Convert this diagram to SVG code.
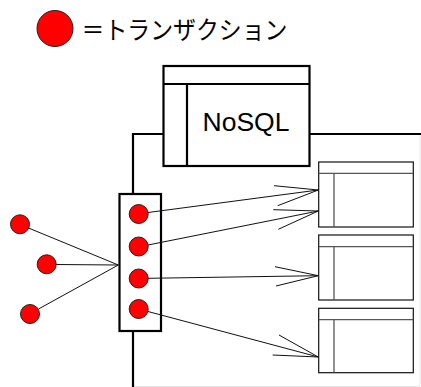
<svg xmlns="http://www.w3.org/2000/svg" width="421" height="387" viewBox="0 0 421 387">
  <style>
    .txn { fill: #ff0000; stroke: #222; stroke-width: 1; }
    .thick { fill: #fff; stroke: #000; stroke-width: 2.2; }
    .thickline { fill: none; stroke: #000; stroke-width: 2.2; }
    .tbl { fill: #fff; stroke: #111; stroke-width: 1.2; }
    .tblinner { fill: none; stroke: #555; stroke-width: 1.3; }
    .conn { fill: none; stroke: #111; stroke-width: 1; }
    .label { font-family: "Liberation Sans", Arial, sans-serif; fill: #000; }
    .jp { font-family: "Noto Sans CJK JP", sans-serif; fill: #000; }
  </style>

  <!-- legend -->
  <g id="legend">
    <circle class="txn" cx="55" cy="28.5" r="18"/>
    <text class="jp" x="81.5" y="39" font-size="25" textLength="206" lengthAdjust="spacingAndGlyphs">＝トランザクション</text>
  </g>

  <!-- outer frame -->
  <g id="frame">
    <polyline points="420,135 420,386.5 133,386.5" fill="none" stroke="#e6e6e6" stroke-width="1"/>
    <polyline class="thickline" points="133,387 133,134 164,134"/>
    <line class="thickline" x1="309" y1="134" x2="421" y2="134"/>
  </g>

  <!-- NoSQL store -->
  <g id="nosql">
    <rect class="thick" x="163.5" y="66" width="146" height="100"/>
    <line class="thickline" x1="163.5" y1="84" x2="309.5" y2="84"/>
    <line class="thickline" x1="187" y1="84" x2="187" y2="166"/>
    <text class="label" x="202.5" y="131" font-size="26.5">NoSQL</text>
  </g>

  <!-- transaction queue -->
  <g id="queue">
    <rect class="thick" x="119.5" y="194" width="41.5" height="137"/>
    <circle class="txn" cx="138.7" cy="214" r="9.5"/>
    <circle class="txn" cx="138.7" cy="246.5" r="9.5"/>
    <circle class="txn" cx="138.7" cy="278.5" r="9.5"/>
    <circle class="txn" cx="138.7" cy="309" r="9.5"/>
  </g>

  <!-- incoming transactions -->
  <g id="client1"><circle class="txn" cx="20" cy="224.3" r="9.5"/></g>
  <g id="client2"><circle class="txn" cx="46.7" cy="264.3" r="9.5"/></g>
  <g id="client3"><circle class="txn" cx="30" cy="314" r="9.5"/></g>

  <!-- tables -->
  <g id="table1">
    <rect class="tbl" x="318.7" y="162" width="94.6" height="65"/>
    <line class="tblinner" x1="318.7" y1="173.3" x2="413.3" y2="173.3"/>
    <line class="tblinner" x1="334" y1="173.3" x2="334" y2="227"/>
  </g>
  <g id="table2">
    <rect class="tbl" x="318.7" y="235" width="94.6" height="65"/>
    <line class="tblinner" x1="318.7" y1="246.7" x2="413.3" y2="246.7"/>
    <line class="tblinner" x1="334" y1="246.7" x2="334" y2="300"/>
  </g>
  <g id="table3">
    <rect class="tbl" x="318.7" y="308.3" width="94.6" height="64.4"/>
    <line class="tblinner" x1="318.7" y1="319.7" x2="413.3" y2="319.7"/>
    <line class="tblinner" x1="334" y1="319.7" x2="334" y2="372.7"/>
  </g>

  <!-- connectors -->
  <g id="connectors">
    <line class="conn" x1="28.5" y1="228" x2="118.3" y2="265"/>
    <line class="conn" x1="56" y1="264.5" x2="118.3" y2="265"/>
    <line class="conn" x1="38.5" y1="309" x2="118.3" y2="265"/>

    <line class="conn" x1="148" y1="212.5" x2="318.3" y2="190"/>
    <polyline class="conn" points="274,185.7 318.3,190 277.7,205.7"/>

    <line class="conn" x1="148" y1="245" x2="318.3" y2="211"/>
    <polyline class="conn" points="273.3,209.7 318.3,211 278.3,229.3"/>

    <line class="conn" x1="148" y1="278.3" x2="318.3" y2="275.7"/>
    <polyline class="conn" points="275,266.7 318.3,275.7 276,286"/>

    <line class="conn" x1="148" y1="311.5" x2="318.3" y2="357"/>
    <polyline class="conn" points="279,335 318.3,357 272.7,355"/>
  </g>
</svg>
